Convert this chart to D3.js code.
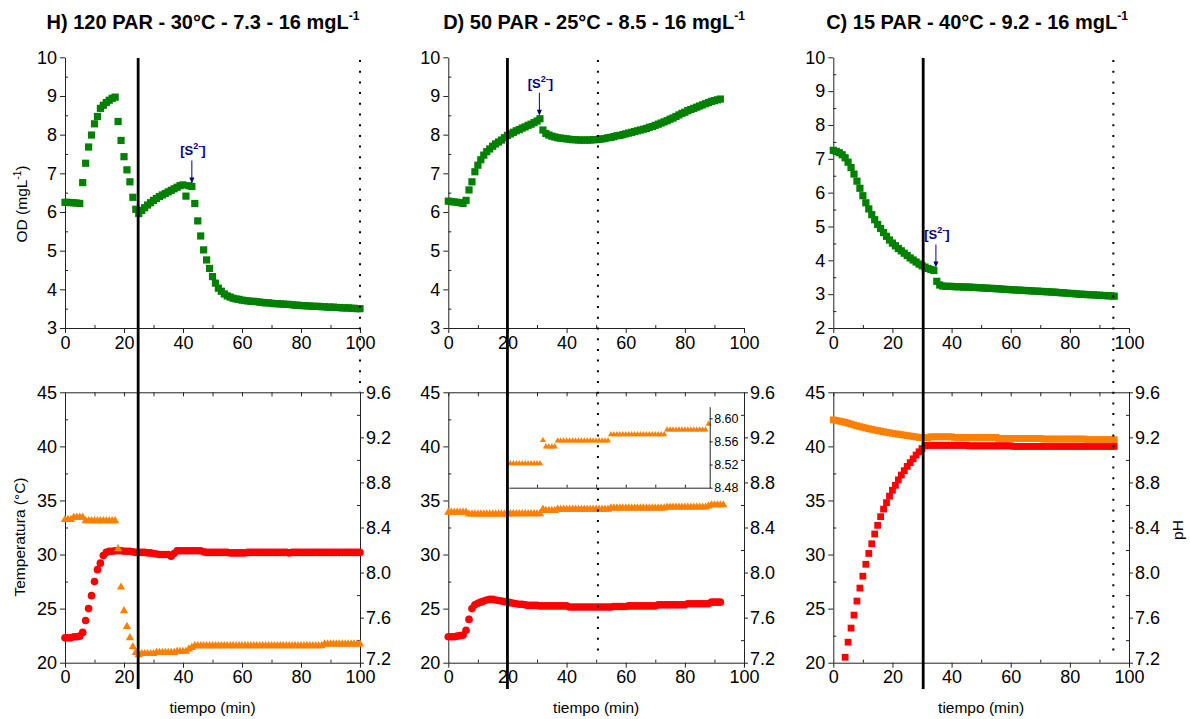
<!DOCTYPE html>
<html><head><meta charset="utf-8">
<script src="https://cdn.jsdelivr.net/npm/d3@7"></script>
<style>
body{margin:0;background:#fff}
svg{display:block}
text{font-family:"Liberation Sans",Arial,sans-serif}
</style>
</head><body>
<svg id="chart" width="1190" height="719"></svg>
<script>
// ---------------- DATA ----------------
const panelTitles = ["H) 120 PAR - 30°C - 7.3 - 16 mgL", "D) 50 PAR - 25°C - 8.5 - 16 mgL", "C) 15 PAR - 40°C - 9.2 - 16 mgL"];
const xTicks = [0, 20, 40, 60, 80, 100];
const odTicksHD = [3, 4, 5, 6, 7, 8, 9, 10];
const odTicksC = [2, 3, 4, 5, 6, 7, 8, 9, 10];
const tempTicks = [20, 25, 30, 35, 40, 45];
const phTicks = [7.2, 7.6, 8.0, 8.4, 8.8, 9.2, 9.6];
const insetTicks = [8.48, 8.52, 8.56, 8.60];
const sampleStep = 1; // minutes between readings

// Panel H (120 PAR) – readings every minute from t = 0
const hOD = [6.25,6.25,6.24,6.24,6.23,6.22,
 6.76,7.26,7.68,7.99,8.28,8.47,8.68,8.76,8.83,8.89,8.94,8.97,
 8.34,7.85,7.43,7.09,6.78,6.38,6.07,5.96,
 6.04,6.11,6.18,6.24,6.30,6.35,6.40,6.44,6.48,6.52,6.56,6.60,6.64,6.68,6.70,
 6.41,6.68,6.66,6.22,5.77,5.38,5.02,4.76,4.54,4.33,4.16,
 4.03,3.95,3.88,3.83,3.80,3.77,3.75,3.74,3.72,
 3.71,3.70,3.69,3.69,3.68,3.67,3.66,3.65,3.65,3.64,
 3.63,3.63,3.62,3.62,3.61,3.61,3.60,3.59,3.59,3.58,
 3.58,3.57,3.57,3.56,3.56,3.56,3.55,3.55,3.54,3.54,
 3.54,3.53,3.53,3.52,3.52,3.52,3.51,3.51,3.50,3.50];
const hTemp = [22.3,22.3,22.3,22.4,22.4,22.45,22.8,23.9,25.0,26.2,27.5,28.6,29.2,29.9,
 30.2,30.3,30.3,30.35,30.35,30.35,30.3,30.3,30.3,30.25,30.2,30.2,
 30.2,30.2,30.15,30.15,30.1,30.05,30.0,30.0,30.0,30.0,29.85,30.1,30.35,
 30.35,30.35,30.35,30.35,30.35,30.35,30.35,30.35,30.25,30.2,30.2,30.2,
 30.2,30.2,30.2,30.2,30.2,30.15,30.15,30.15,30.15,30.15,
 30.15,30.2,30.2,30.2,30.2,30.2,30.2,30.2,30.2,30.2,
 30.2,30.2,30.2,30.2,30.2,30.15,30.2,30.2,30.2,30.2,
 30.2,30.2,30.2,30.2,30.2,30.2,30.2,30.2,30.2,30.2,
 30.2,30.2,30.2,30.2,30.2,30.2,30.2,30.2,30.2,30.2];
const hPH = [8.47,8.47,8.47,8.49,8.49,8.49,8.49,
 8.46,8.46,8.46,8.46,8.46,8.46,8.46,8.46,8.46,8.46,8.46,
 8.21,7.87,7.66,7.52,7.42,7.34,7.29,7.27,
 7.28,7.28,7.28,7.28,7.28,7.29,7.29,7.29,7.29,7.29,7.29,7.29,7.30,7.30,7.30,7.30,
 7.32,7.335,
 7.35,7.35,7.35,7.35,7.35,7.35,7.35,7.35,7.35,7.35,7.35,7.35,7.35,7.35,7.35,7.35,7.35,7.35,7.35,7.35,7.35,7.35,
 7.35,7.35,7.35,7.35,7.35,7.35,7.35,7.35,7.35,7.35,7.35,7.35,7.35,7.35,7.35,7.35,7.35,7.35,7.35,7.35,7.35,7.35,
 7.365,7.365,7.365,7.365,7.365,7.365,7.365,7.365,7.365,7.365,7.365,7.365,7.365];

// Panel D (50 PAR)
const dOD = [6.28,6.27,6.26,6.25,6.24,6.22,
 6.30,6.57,6.78,7.04,7.21,
 7.35,7.47,7.56,7.63,7.70,7.76,7.81,7.86,7.92,7.98,
 8.02,8.06,8.10,8.13,8.17,8.20,8.24,8.27,8.31,8.35,8.41,
 8.12,8.03,7.99,7.96,7.94,7.92,7.91,7.90,7.89,7.88,7.87,
 7.87,7.86,7.86,7.86,7.86,7.86,7.87,7.87,7.88,7.89,
 7.90,7.92,7.93,7.95,7.97,7.98,8.00,8.02,8.04,8.06,
 8.08,8.10,8.12,8.14,8.16,8.19,8.21,8.24,8.27,8.30,
 8.33,8.36,8.40,8.43,8.47,8.51,8.55,8.58,8.62,8.65,
 8.68,8.71,8.74,8.77,8.80,8.83,8.86,8.88,8.90,8.92];
const dTemp = [22.4,22.4,22.4,22.45,22.5,22.55,23.0,24.0,25.0,
 25.35,25.5,25.6,25.7,25.8,25.85,25.85,25.8,25.75,25.7,25.65,25.6,
 25.55,25.5,25.45,25.4,25.4,25.35,25.3,25.3,25.3,25.3,
 25.25,25.25,25.25,25.25,25.25,25.25,25.25,25.25,25.25,25.25,
 25.15,25.15,25.15,25.15,25.15,25.15,25.15,25.15,25.15,25.15,25.15,25.15,25.15,25.15,25.15,
 25.2,25.2,25.2,25.2,25.2,
 25.25,25.25,25.25,25.25,25.25,25.25,25.25,25.25,25.25,25.25,
 25.35,25.35,25.35,25.35,25.35,25.35,25.35,25.35,25.35,25.35,
 25.45,25.45,25.45,25.45,25.45,25.45,25.45,25.45,
 25.6,25.6,25.6,25.6];
const dPH = [8.535,8.535,8.535,8.535,8.535,8.535,8.535,
 8.52,8.52,8.52,8.52,8.52,8.52,8.52,8.52,8.52,8.52,8.52,8.52,8.52,8.52,
 8.522,8.522,8.522,8.522,8.522,8.522,8.522,8.522,8.522,8.522,8.522,
 8.562,
 8.551,8.551,8.551,8.551,
 8.561,8.561,8.561,8.561,8.561,8.561,8.561,8.561,8.561,8.561,8.561,8.561,8.561,8.561,8.561,8.561,8.561,8.561,
 8.572,8.572,8.572,8.572,8.572,8.572,8.572,8.572,8.572,8.572,8.572,8.572,8.572,8.572,8.572,8.572,8.572,8.572,8.572,
 8.58,8.58,8.58,8.58,8.58,8.58,8.58,8.58,8.58,8.58,8.58,8.58,8.58,8.58,
 8.59,
 8.60,8.60,8.60,8.60,8.60];

// Panel C (15 PAR)
const cOD = [7.25,7.22,7.18,7.12,7.03,6.90,6.74,6.55,6.34,6.13,5.91,
 5.70,5.52,5.35,5.20,5.06,4.94,4.82,4.71,4.60,4.51,
 4.43,4.35,4.28,4.21,4.14,4.07,4.01,3.95,3.89,3.84,
 3.80,3.76,3.73,3.70,
 3.38,3.27,3.24,3.23,3.23,3.23,
 3.22,3.22,3.22,3.21,3.21,3.21,3.20,3.20,3.19,3.19,
 3.18,3.18,3.17,3.17,3.16,3.16,3.15,3.14,3.14,3.13,
 3.13,3.12,3.12,3.11,3.11,3.10,3.10,3.09,3.09,3.08,
 3.08,3.07,3.07,3.06,3.06,3.05,3.04,3.04,3.03,3.02,
 3.02,3.01,3.00,3.00,2.99,2.99,2.98,2.98,2.97,2.97,
 2.96,2.96,2.95,2.95,2.94];
const cTempStart = 4; // first visible reading (min)
const cTemp = [20.5,21.9,23.2,24.4,25.7,26.9,28.0,29.1,30.1,31.0,31.9,32.7,33.5,34.2,34.8,35.4,35.95,
 36.4,36.9,37.35,37.75,38.15,38.5,38.85,39.2,39.5,39.8,40.05,
 40.1,40.1,40.1,40.1,40.1,40.1,40.1,40.1,40.1,40.1,40.1,40.1,40.1,40.1,
 40.05,40.05,40.05,40.05,40.05,40.05,40.05,40.05,40.05,40.05,40.05,40.05,40.05,40.05,40.05,
 40.0,40.0,40.0,40.0,40.0,40.0,40.0,40.0,40.0,40.0,40.0,40.0,40.0,40.0,40.0,40.0,40.0,40.0,
 40.0,40.0,40.0,40.0,40.0,40.0,40.0,40.0,40.0,40.0,40.0,40.0,40.0,40.0,40.0,40.0,40.0];
const cPH = [9.355,9.35,9.345,9.34,9.333,9.326,9.318,9.31,9.303,9.296,9.289,
 9.283,9.277,9.271,9.265,9.26,9.255,9.25,9.245,9.241,9.236,
 9.232,9.228,9.224,9.22,9.216,9.212,9.208,9.204,9.2,9.198,9.197,9.198,
 9.205,9.205,9.205,9.205,9.205,9.205,9.205,9.205,
 9.2,9.2,9.2,9.2,9.2,9.2,9.2,9.2,9.2,9.2,9.2,9.2,9.2,9.2,9.2,
 9.19,9.19,9.19,9.19,9.19,9.19,9.19,9.19,9.19,9.19,9.19,9.19,9.19,9.19,9.19,
 9.185,9.185,9.185,9.185,9.185,9.185,9.185,9.185,9.185,9.185,9.185,9.185,9.185,9.185,9.185,
 9.18,9.18,9.18,9.18,9.18,9.18,9.18,9.18,9.18,9.18];

// event markers (min)
const solidLineTimes = [24.8, 20, 30.4];
const dottedLineTimes = [100, 50.6, 94.7];
// sulfide addition annotations: time and OD of the arrowed point
const sulfideTimes = [43, 30.8, 34.7];
const sulfideOD = [6.66, 8.41, 3.70];
// inset range for panel D (min, pH)
const insetTimeRange = [20.5, 88.4];
const insetPHRange = [8.48, 8.62];

// ---------------- LAYOUT ----------------
const svg = d3.select("#chart");
const GREEN = "#008000", RED = "#ff0000", ORANGE = "#ff8000", NAVY = "#000080", AX = "#222";
const plotX = [[65, 360], [448.3, 744], [833.3, 1129]];
const topY = [57.3, 328];
const botY = [392.3, 662.7];
const titleX = [203, 594, 977];

const toPts = (vals, t0) => vals.map((v, i) => ({t: t0 + i * sampleStep, v}));

const panels = [
  {od: hOD, odDom: [3, 10], odTicks: odTicksHD, temp: toPts(hTemp, 0), ph: toPts(hPH, 0), tempSym: d3.symbolCircle, tempSize: 46, phSym: d3.symbolTriangle, phSize: 30},
  {od: dOD, odDom: [3, 10], odTicks: odTicksHD, temp: toPts(dTemp, 0), ph: toPts(dPH, 0), tempSym: d3.symbolCircle, tempSize: 46, phSym: d3.symbolTriangle, phSize: 30},
  {od: cOD, odDom: [2, 10], odTicks: odTicksC, temp: toPts(cTemp, cTempStart), ph: toPts(cPH, 0), tempSym: d3.symbolSquare, tempSize: 46, phSym: d3.symbolSquare, phSize: 46}
];

function styleAxis(g, fs) {
  g.selectAll("path.domain").attr("stroke", AX).attr("stroke-width", 1);
  g.selectAll(".tick line").attr("stroke", AX).attr("stroke-width", 1);
  g.selectAll(".tick text").attr("font-size", fs).attr("fill", "#000")
    .attr("font-family", '"Liberation Sans", Arial, sans-serif');
}
function minorTicks(vals) {
  const out = [];
  for (let i = 0; i < vals.length - 1; i++) out.push(+((vals[i] + vals[i + 1]) / 2).toFixed(4));
  return out;
}

panels.forEach((p, i) => {
  const [xa, xb] = plotX[i];
  const x = d3.scaleLinear().domain([0, 100]).range([xa, xb]);
  const yOD = d3.scaleLinear().domain(p.odDom).range([topY[1], topY[0]]);
  const yT = d3.scaleLinear().domain([20, 45]).range([botY[1], botY[0]]);
  const yP = d3.scaleLinear().domain([7.2, 9.6]).range([botY[1], botY[0]]);
  const xMinor = minorTicks(xTicks);

  // ---- title
  const tt = svg.append("text").attr("x", titleX[i]).attr("y", 29).attr("text-anchor", "middle")
    .attr("font-size", 20).attr("font-weight", "bold").text(panelTitles[i]);
  tt.append("tspan").attr("font-size", 12).attr("dy", -9).text("-1");

  // ---- top panel axes
  const gx = svg.append("g").attr("transform", `translate(0,${topY[1]})`)
    .call(d3.axisBottom(x).tickValues(xTicks).tickSize(5).tickPadding(3).tickSizeOuter(0).tickFormat(d3.format("d")));
  styleAxis(gx, 18);
  const gxm = svg.append("g").attr("transform", `translate(0,${topY[1]})`)
    .call(d3.axisBottom(x).tickValues(xMinor).tickSize(-3).tickFormat(""));
  gxm.select("path.domain").remove(); styleAxis(gxm, 18);

  const gy = svg.append("g").attr("transform", `translate(${xa},0)`)
    .call(d3.axisLeft(yOD).tickValues(p.odTicks).tickSize(5).tickPadding(3).tickSizeOuter(0).tickFormat(d3.format("d")));
  styleAxis(gy, 18);
  const gym = svg.append("g").attr("transform", `translate(${xa},0)`)
    .call(d3.axisLeft(yOD).tickValues(minorTicks(p.odTicks)).tickSize(-3).tickFormat(""));
  gym.select("path.domain").remove(); styleAxis(gym, 18);

  // ---- OD markers
  svg.append("g").selectAll("path").data(toPts(p.od, 0)).join("path")
    .attr("d", d3.symbol(d3.symbolSquare, 52))
    .attr("transform", d => `translate(${x(d.t)},${yOD(d.v)})`)
    .attr("fill", GREEN);

  // ---- sulfide annotation
  const ax = x(sulfideTimes[i]), ay = yOD(sulfideOD[i]);
  const at = svg.append("text").attr("x", ax + 1).attr("y", ay - 31).attr("text-anchor", "middle")
    .attr("font-size", 13).attr("font-weight", "bold").attr("fill", NAVY);
  at.append("tspan").text("[S");
  at.append("tspan").attr("font-size", 9).attr("dy", -6).text("2-");
  at.append("tspan").attr("dy", 6).text("]");
  svg.append("line").attr("x1", ax).attr("x2", ax).attr("y1", ay - 26).attr("y2", ay - 8)
    .attr("stroke", NAVY).attr("stroke-width", 1);
  svg.append("path").attr("d", `M${ax - 2.5},${ay - 9} L${ax + 2.5},${ay - 9} L${ax},${ay - 3} Z`).attr("fill", NAVY);

  // ---- bottom panel axes (box)
  const gbx = svg.append("g").attr("transform", `translate(0,${botY[1]})`)
    .call(d3.axisBottom(x).tickValues(xTicks).tickSize(5).tickPadding(3).tickSizeOuter(0).tickFormat(d3.format("d")));
  styleAxis(gbx, 18);
  const gbxm = svg.append("g").attr("transform", `translate(0,${botY[1]})`)
    .call(d3.axisBottom(x).tickValues(xMinor).tickSize(-3).tickFormat(""));
  gbxm.select("path.domain").remove(); styleAxis(gbxm, 18);
  const gtx = svg.append("g").attr("transform", `translate(0,${botY[0]})`)
    .call(d3.axisTop(x).tickValues(xTicks.concat(xMinor)).tickSize(-4).tickSizeOuter(0).tickFormat(""));
  styleAxis(gtx, 18);

  const gby = svg.append("g").attr("transform", `translate(${xa},0)`)
    .call(d3.axisLeft(yT).tickValues(tempTicks).tickSize(5).tickPadding(3).tickSizeOuter(0).tickFormat(d3.format("d")));
  styleAxis(gby, 18);
  const gbym = svg.append("g").attr("transform", `translate(${xa},0)`)
    .call(d3.axisLeft(yT).tickValues(minorTicks(tempTicks)).tickSize(-3).tickFormat(""));
  gbym.select("path.domain").remove(); styleAxis(gbym, 18);

  const gry = svg.append("g").attr("transform", `translate(${xb},0)`)
    .call(d3.axisRight(yP).tickValues(phTicks).tickSize(4).tickPadding(2).tickSizeOuter(0).tickFormat(d3.format(".1f")));
  styleAxis(gry, 18);
  // lowest pH label sits a touch higher so it clears the "100" below it
  gry.selectAll(".tick text").filter(d => d === phTicks[0]).attr("dy", "0.12em");
  const grym = svg.append("g").attr("transform", `translate(${xb},0)`)
    .call(d3.axisRight(yP).tickValues(minorTicks(phTicks)).tickSize(-3).tickFormat(""));
  grym.select("path.domain").remove(); styleAxis(grym, 18);

  // ---- temperature & pH markers
  svg.append("g").selectAll("path").data(p.temp).join("path")
    .attr("d", d3.symbol(p.tempSym, p.tempSize))
    .attr("transform", d => `translate(${x(d.t)},${yT(d.v)})`)
    .attr("fill", RED);
  svg.append("g").selectAll("path").data(p.ph).join("path")
    .attr("d", d3.symbol(p.phSym, p.phSize))
    .attr("transform", d => `translate(${x(d.t)},${yP(d.v)})`)
    .attr("fill", ORANGE);

  // ---- inset in panel D
  if (i === 1) {
    const yIn = d3.scaleLinear().domain(insetPHRange).range([487.7, 406.7]);
    const xi0 = x(insetTimeRange[0]), xi1 = x(insetTimeRange[1]);
    svg.append("rect").attr("x", xi0).attr("y", 406.7).attr("width", xi1 - xi0).attr("height", 81).attr("fill", "#fff");
    const inPts = p.ph.filter(d => d.t >= insetTimeRange[0] && d.t <= insetTimeRange[1]);
    svg.append("g").selectAll("path").data(inPts).join("path")
      .attr("d", d3.symbol(d3.symbolTriangle, 16))
      .attr("transform", d => `translate(${x(d.t)},${yIn(d.v)})`)
      .attr("fill", ORANGE);
    const xIn = d3.scaleLinear().domain(insetTimeRange).range([xi0, xi1]);
    const gix = svg.append("g").attr("transform", `translate(0,487.7)`)
      .call(d3.axisBottom(xIn).tickValues([30, 40, 50, 60, 70, 80]).tickSize(-3).tickSizeOuter(0).tickFormat(""));
    styleAxis(gix, 12);
    const giy = svg.append("g").attr("transform", `translate(${xi1},0)`)
      .call(d3.axisRight(yIn).tickValues(insetTicks).tickSize(3).tickPadding(1.5).tickSizeOuter(0).tickFormat(d3.format(".2f")));
    styleAxis(giy, 12.5);
  }

  // ---- event lines
  svg.append("line").attr("x1", x(solidLineTimes[i])).attr("x2", x(solidLineTimes[i]))
    .attr("y1", 58).attr("y2", 689).attr("stroke", "#000").attr("stroke-width", 2.8);
  svg.append("line").attr("x1", x(dottedLineTimes[i])).attr("x2", x(dottedLineTimes[i]))
    .attr("y1", 60).attr("y2", i === 0 ? 392 : 656).attr("stroke", "#000").attr("stroke-width", 2)
    .attr("stroke-dasharray", "2,8.7");

  // ---- x title
  svg.append("text").attr("x", (xa + xb) / 2).attr("y", 713).attr("text-anchor", "middle")
    .attr("font-size", 15.5).text("tiempo (min)");
});

// ---- y titles
const odT = svg.append("text").attr("transform", "translate(27,204) rotate(-90)").attr("text-anchor", "middle").attr("font-size", 15.5);
odT.append("tspan").text("OD (mgL");
odT.append("tspan").attr("font-size", 10).attr("dy", -6).text("-1");
odT.append("tspan").attr("dy", 6).text(")");
svg.append("text").attr("transform", "translate(25,537) rotate(-90)").attr("text-anchor", "middle")
  .attr("font-size", 15.5).text("Temperatura (°C)");
svg.append("text").attr("transform", "translate(1183,530) rotate(-90)").attr("text-anchor", "middle")
  .attr("font-size", 15.5).text("pH");
</script>
</body></html>
